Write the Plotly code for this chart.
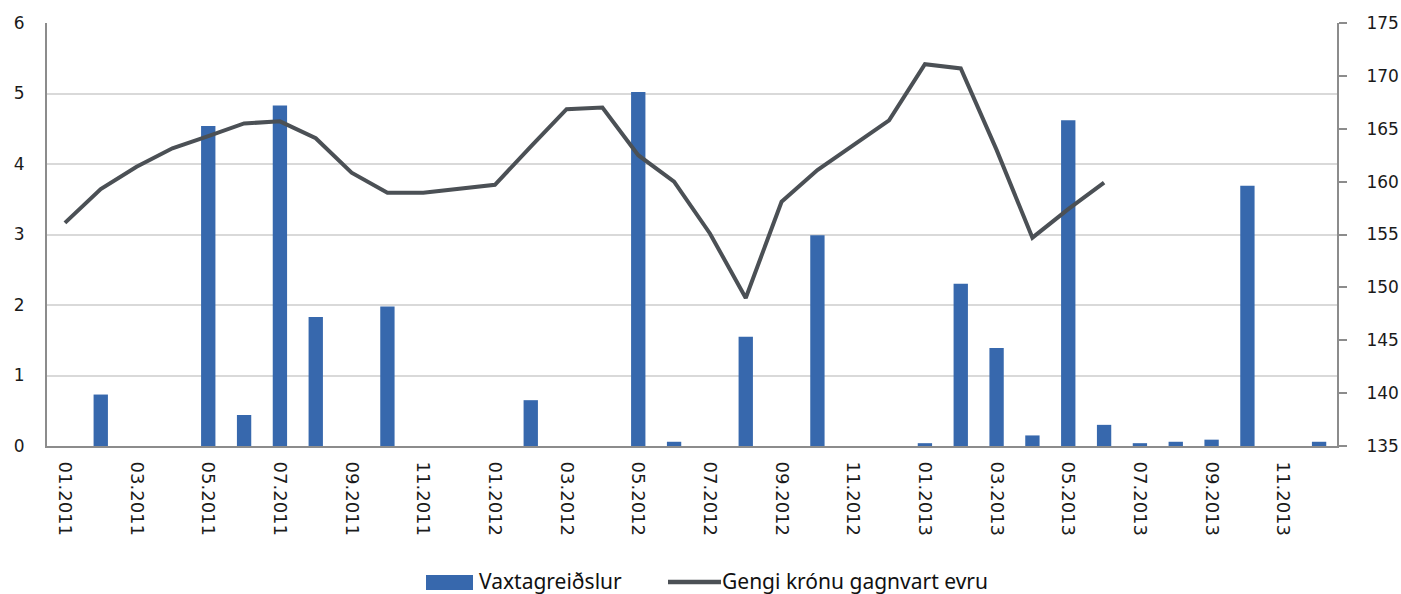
import plotly.graph_objects as go

# Monthly categories 01.2011 - 12.2013
months = [f"{m:02d}.{y}" for y in (2011, 2012, 2013) for m in range(1, 13)]

# Interest payments (left axis)
vaxtagreidslur = [
    0, 0.73, 0, 0, 4.54, 0.44, 4.83, 1.83, 0, 1.98, 0, 0,
    0, 0.65, 0, 0, 5.02, 0.06, 0, 1.55, 0, 2.99, 0, 0,
    0.04, 2.30, 1.39, 0.15, 4.62, 0.30, 0.04, 0.06, 0.09, 3.69, 0, 0.06,
]

# ISK/EUR exchange rate (right axis), available through 06.2013
gengi = [
    156.1, 159.3, 161.4, 163.15, 164.3, 165.5, 165.7, 164.1, 160.85, 158.95, 158.95, 159.3,
    159.7, 163.3, 166.85, 167.0, 162.5, 160.0, 155.1, 149.0, 158.1, 161.1, 163.4, 165.8,
    171.1, 170.7, 163.0, 154.7, 157.4, 159.9,
]

tick_labels = months[::2]

BAR_COLOR = "#3768AD"
LINE_COLOR = "#4B5055"
AXIS_FONT = dict(family="DejaVu Sans", size=17, color="#1A1A1A")
XTICK_FONT = dict(family="DejaVu Sans", size=18, color="#1A1A1A")
LEGEND_FONT = dict(family="Noto Sans", size=21, color="#111111")

fig = go.Figure()
fig.add_trace(go.Bar(
    x=months, y=vaxtagreidslur, name="Vaxtagreiðslur",
    marker=dict(color=BAR_COLOR, line=dict(width=0)),
    width=0.4, yaxis="y",
))
fig.add_trace(go.Scatter(
    x=months[:len(gengi)], y=gengi, name="Gengi krónu gagnvart evru",
    mode="lines", line=dict(color=LINE_COLOR, width=4), yaxis="y2",
))

L, R, T, B = 47, 64, 23, 148
W, H = 1401, 594
pw, ph = W - L - R, H - T - B


def px_x(p):
    return (p - L) / pw


def px_y(p):
    return (H - B - p) / ph


# Legend drawn below the plot area
legend_shapes = [
    dict(type="rect", xref="paper", yref="paper",
         x0=px_x(426), x1=px_x(473), y0=px_y(590), y1=px_y(575),
         fillcolor=BAR_COLOR, line=dict(width=0)),
    dict(type="line", xref="paper", yref="paper",
         x0=px_x(668), x1=px_x(721), y0=px_y(582), y1=px_y(582),
         line=dict(color=LINE_COLOR, width=4.5)),
]
legend_notes = [
    dict(xref="paper", yref="paper", x=px_x(477), y=px_y(581), text="Vaxtagreiðslur",
         showarrow=False, xanchor="left", yanchor="middle", font=LEGEND_FONT),
    dict(xref="paper", yref="paper", x=px_x(720), y=px_y(581), text="Gengi krónu gagnvart evru",
         showarrow=False, xanchor="left", yanchor="middle", font=LEGEND_FONT),
]

fig.update_layout(
    width=W, height=H,
    margin=dict(l=L, r=R, t=T, b=B, autoexpand=False),
    paper_bgcolor="white", plot_bgcolor="white",
    showlegend=False,
    bargap=0.6,
    xaxis=dict(
        type="category", categoryorder="array", categoryarray=months,
        tickmode="array", tickvals=tick_labels, ticktext=tick_labels,
        tickangle=90, tickfont=XTICK_FONT, ticks="", ticklabelstandoff=10,
        showline=True, linecolor="#8C8C8C", linewidth=2, showgrid=False,
        range=[-0.5, len(months) - 0.5], automargin=False,
    ),
    yaxis=dict(
        range=[0, 6], dtick=1, tickfont=AXIS_FONT,
        showgrid=True, gridcolor="#D9D9D9", gridwidth=1.5,
        showline=True, linecolor="#8C8C8C", linewidth=2,
        ticks="", ticklabelstandoff=17, zeroline=False, automargin=False,
    ),
    yaxis2=dict(
        range=[135, 175], dtick=5, tickfont=AXIS_FONT,
        overlaying="y", side="right", showgrid=False,
        showline=True, linecolor="#8C8C8C", linewidth=2,
        ticks="outside", ticklen=8, tickcolor="#8C8C8C", tickwidth=1.5,
        ticklabelstandoff=16, zeroline=False, automargin=False,
    ),
    shapes=legend_shapes,
    annotations=legend_notes,
)

fig.write_html("out.html")
